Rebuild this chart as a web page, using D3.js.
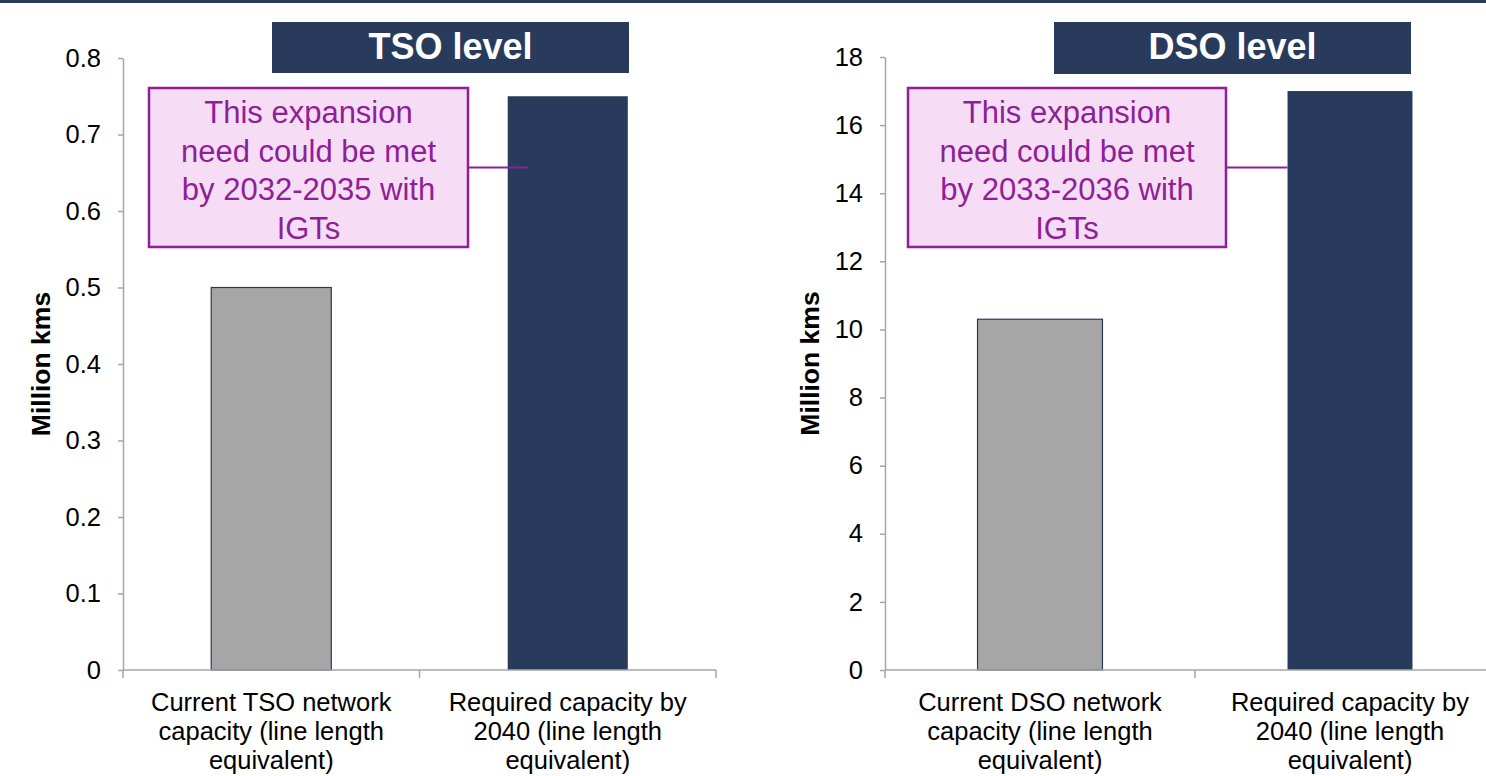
<!DOCTYPE html>
<html>
<head>
<meta charset="utf-8">
<script src="https://cdn.jsdelivr.net/npm/d3@7"></script>
<style>
  html, body { margin: 0; padding: 0; background: #ffffff; }
  svg { display: block; font-family: "Liberation Sans", Arial, sans-serif; }
</style>
</head>
<body>
<svg id="chart" width="1486" height="776"></svg>
<script>
// ---------- DATA ----------
const tsoCategories = ["Current TSO network capacity (line length equivalent)", "Required capacity by 2040 (line length equivalent)"];
const tsoLabelLines = [["Current TSO network", "capacity (line length", "equivalent)"], ["Required capacity by", "2040 (line length", "equivalent)"]];
const tsoValues = [0.5, 0.75];
const tsoTicks = [0, 0.1, 0.2, 0.3, 0.4, 0.5, 0.6, 0.7, 0.8];
const tsoTitle = "TSO level";
const tsoNote = ["This expansion", "need could be met", "by 2032-2035 with", "IGTs"];

const dsoCategories = ["Current DSO network capacity (line length equivalent)", "Required capacity by 2040 (line length equivalent)"];
const dsoLabelLines = [["Current DSO network", "capacity (line length", "equivalent)"], ["Required capacity by", "2040 (line length", "equivalent)"]];
const dsoValues = [10.3, 17];
const dsoTicks = [0, 2, 4, 6, 8, 10, 12, 14, 16, 18];
const dsoTitle = "DSO level";
const dsoNote = ["This expansion", "need could be met", "by 2033-2036 with", "IGTs"];

const yAxisTitle = "Million kms";
const barColors = ["#a6a6a6", "#283b5c"];

// ---------- LAYOUT ----------
const NAVY = "#283b5c";
const AXIS = "#a6a6a6";
const PURPLE = "#8e1f96";
const PINK = "#f7dcf6";

const svg = d3.select("#chart");

// top border
svg.append("rect").attr("x", 0).attr("y", 0).attr("width", 1486).attr("height", 3).attr("fill", NAVY);

const panels = [
  {
    cats: tsoCategories, lines: tsoLabelLines, values: tsoValues, ticks: tsoTicks,
    title: tsoTitle, note: tsoNote, tickFmt: d3.format(".1~f"),
    x0: 123, x1: 716, yMax: 0.8, yTop: 58, yBottom: 670, pad: 0.595,
    titleBox: [272, 22, 357, 51], noteBox: [149, 88, 319, 159], yTitleX: 50, connOverlap: 20
  },
  {
    cats: dsoCategories, lines: dsoLabelLines, values: dsoValues, ticks: dsoTicks,
    title: dsoTitle, note: dsoNote, tickFmt: d3.format("d"),
    x0: 885, x1: 1505, yMax: 18, yTop: 57, yBottom: 670, pad: 0.597,
    titleBox: [1054, 22, 357, 52], noteBox: [908, 88, 318, 159], yTitleX: 819, connOverlap: 0
  }
];

panels.forEach(p => {
  const g = svg.append("g");
  const y = d3.scaleLinear().domain([0, p.yMax]).range([p.yBottom, p.yTop]);
  const x = d3.scaleBand().domain(p.cats).range([p.x0, p.x1])
    .paddingInner(p.pad).paddingOuter(p.pad / 2);

  // Y axis
  const yAxis = d3.axisLeft(y).tickValues(p.ticks).tickFormat(p.tickFmt)
    .tickSize(5).tickPadding(17).tickSizeOuter(0);
  const ya = g.append("g").attr("transform", `translate(${p.x0},0)`).call(yAxis);
  ya.select(".domain").attr("stroke", AXIS).attr("stroke-width", 1.5);
  ya.selectAll(".tick line").attr("stroke", AXIS).attr("stroke-width", 1.5);
  ya.selectAll(".tick text").attr("fill", "#000").attr("font-size", 25.5)
    .attr("font-family", "Liberation Sans, Arial, sans-serif");

  // Bars
  g.selectAll("rect.bar").data(p.values).enter().append("rect")
    .attr("class", "bar")
    .attr("x", (d, i) => x(p.cats[i]))
    .attr("width", x.bandwidth())
    .attr("y", d => y(d))
    .attr("height", d => y(0) - y(d))
    .attr("fill", (d, i) => barColors[i])
    .attr("stroke", NAVY)
    .attr("stroke-width", (d, i) => i === 0 ? 1.2 : 0);

  // X axis line and category ticks
  g.append("line").attr("x1", p.x0).attr("x2", p.x1).attr("y1", y(0)).attr("y2", y(0))
    .attr("stroke", AXIS).attr("stroke-width", 1.5);
  const bounds = [p.x0].concat(p.cats.map(c => x(c) + x.bandwidth() + x.step() * p.pad / 2));
  g.selectAll("line.ctick").data(bounds).enter().append("line")
    .attr("class", "ctick")
    .attr("x1", d => d).attr("x2", d => d)
    .attr("y1", y(0)).attr("y2", y(0) + 8)
    .attr("stroke", AXIS).attr("stroke-width", 1.5);

  // Category labels
  p.cats.forEach((c, i) => {
    const t = g.append("text")
      .attr("x", x(c) + x.bandwidth() / 2)
      .attr("text-anchor", "middle")
      .attr("font-size", 25.5)
      .attr("fill", "#000");
    p.lines[i].forEach((ln, k) => {
      t.append("tspan").attr("x", x(c) + x.bandwidth() / 2).attr("y", 711 + k * 29).text(ln);
    });
  });

  // Y axis title
  g.append("text")
    .attr("transform", `translate(${p.yTitleX},${(p.yTop + p.yBottom) / 2}) rotate(-90)`)
    .attr("text-anchor", "middle")
    .attr("font-size", 26.5)
    .attr("font-weight", "bold")
    .attr("fill", "#000")
    .text(yAxisTitle);

  // Title box
  const [tx, ty, tw, th] = p.titleBox;
  g.append("rect").attr("x", tx).attr("y", ty).attr("width", tw).attr("height", th).attr("fill", NAVY);
  g.append("text").attr("x", tx + tw / 2).attr("y", ty + 37)
    .attr("text-anchor", "middle").attr("font-size", 36).attr("font-weight", "bold")
    .attr("fill", "#ffffff").text(p.title);

  // Annotation box + connector
  const [nx, ny, nw, nh] = p.noteBox;
  const connY = ny + nh / 2;
  g.append("line").attr("x1", nx + nw).attr("x2", x(p.cats[1]) + p.connOverlap)
    .attr("y1", connY).attr("y2", connY)
    .attr("stroke", PURPLE).attr("stroke-width", 2);
  g.append("rect").attr("x", nx).attr("y", ny).attr("width", nw).attr("height", nh)
    .attr("fill", PINK).attr("stroke", PURPLE).attr("stroke-width", 2.5);
  const nt = g.append("text").attr("text-anchor", "middle").attr("font-size", 31).attr("fill", PURPLE);
  p.note.forEach((ln, k) => {
    nt.append("tspan").attr("x", nx + nw / 2).attr("y", ny + 35 + k * 38.5).text(ln);
  });
});
</script>
</body>
</html>
